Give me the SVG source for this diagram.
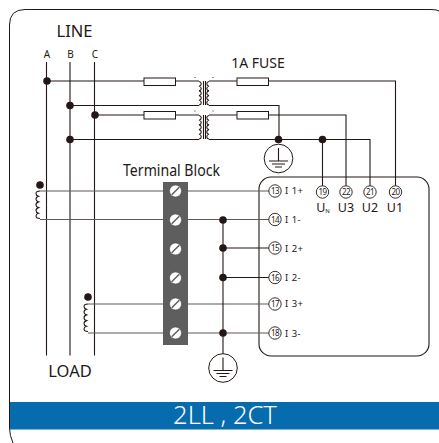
<svg xmlns="http://www.w3.org/2000/svg" width="439" height="443" viewBox="0 0 439 443">
<style>
text{font-family:"Noto Sans","Open Sans",sans-serif;fill:#231815}
.w{fill:none;stroke:#231815;stroke-width:1.1}
.g{fill:none;stroke:#5f5a58;stroke-width:1.1}
.f{fill:#fff;stroke:#231815;stroke-width:1}
.d{fill:#231815}
.t{fill:#fff;stroke:#231815;stroke-width:.9}
.n{font-size:8px;text-anchor:middle;letter-spacing:-.6px}
.l{font-size:9.5px;letter-spacing:.5px}
.u{font-size:12.5px;text-anchor:middle}
.s{fill:#fff;stroke:#4a4a4a;stroke-width:.6}
.sl{stroke:#5f5e5e;stroke-width:1.5}
</style>
<defs>
<path id="coilL" d="M199 0a2.800 2.400 0 0 1 0 4.700a2.800 2.400 0 0 1 0 4.700a2.800 2.400 0 0 1 0 4.700a2.800 2.400 0 0 1 0 4.700a2.800 2.400 0 0 1 0 4.700" class="w"/>
<path id="coilR" d="M209 0a2.800 2.400 0 0 0 0 4.700a2.800 2.400 0 0 0 0 4.700a2.800 2.400 0 0 0 0 4.700a2.800 2.400 0 0 0 0 4.700a2.800 2.400 0 0 0 0 4.700" class="w"/>
<path id="ct" d="M0 0q-4 0-4 2.500q0 2 2.500 2.700q-2.500.7-2.500 3q0 2 2.500 2.700q-2.500.7-2.500 3q0 2 2.500 2.700q-2.500.7-2.500 3q0 2 2.500 2.700q-2.500.7-2.500 2.700q0 2.500 4 2.500" class="w"/>
<g id="gnd"><circle r="14.3" class="f"/><path class="w" d="M0-10.500V2.500M-9.500 2.500H9.500M-6.500 5.500H6.500M-3.500 8.500H3.500"/></g>
<g id="screw"><circle r="6" class="s"/><path class="sl" d="M-3.800 3.800L3.800-3.800"/></g>
</defs>
<g id="frame"><path d="M439 11Q437 9.500 431 9.500H25Q9.500 9.500 9.500 25V428Q9.500 435 13 443" fill="none" stroke="#231815" stroke-width="1"/></g>
<g id="band"><rect x="10" y="402" width="429" height="27.500" fill="#066cae"/><text x="225" y="424" font-size="25.500" font-weight="300" text-anchor="middle" style="fill:#fff">2LL , 2CT</text></g>
<g id="block"><rect x="163" y="182" width="25" height="163" fill="#5f5e5e"/></g>
<g id="device"><rect x="259" y="177" width="170" height="179" rx="12" fill="#fff" stroke="#231815" stroke-width="1.100"/></g>
<g id="connectors">
<path class="w" d="M46.500 62V355.500M70 62V355.500M94.500 62V355.500"/>
<path class="w" d="M47 81H199M70 105.500H199M95 115H199M70 139.500H199"/>
<path class="w" d="M209 81H395.500V186M209 105.500H279V139.500M209 115H346V186M209 139.500H370V186M322.500 139.500V186"/>
<path class="w" d="M203.500 81V105M205.500 81V105M203.500 115V139M205.500 115V139"/>
<use href="#coilL" y="81.500"/><use href="#coilL" y="115.500"/>
<use href="#coilR" y="81.500"/><use href="#coilR" y="115.500"/>
<path class="g" d="M40 191H269M40 219.500H269M88 304H269M88 333H269"/>
<path class="w" d="M223 220V354M223 248H269M223 277.500H269"/>
<use href="#ct" x="40" y="191"/><use href="#ct" x="88" y="304"/>
<circle class="d" cx="47" cy="81" r="3.800"/><circle class="d" cx="70" cy="105.500" r="3.800"/><circle class="d" cx="95" cy="115" r="3.800"/><circle class="d" cx="70" cy="139.500" r="3.800"/>
<circle class="d" cx="278.500" cy="139.500" r="3.800"/><circle class="d" cx="322.500" cy="139.500" r="3.800"/>
<circle class="d" cx="40" cy="185" r="3.800"/><circle class="d" cx="88" cy="297" r="3.800"/>
<circle class="d" cx="223" cy="220" r="3.800"/><circle class="d" cx="223" cy="248" r="3.800"/><circle class="d" cx="223" cy="277.500" r="3.800"/><circle class="d" cx="223" cy="333" r="3.800"/>
<circle class="d" cx="195" cy="77.500" r=".6"/><circle class="d" cx="213" cy="77.500" r=".6"/><circle class="d" cx="195" cy="111" r=".6"/><circle class="d" cx="213" cy="111" r=".6"/>
</g>
<g id="fuses">
<rect class="f" x="144" y="78" width="31.500" height="7.500"/><rect class="f" x="144" y="111.500" width="31.500" height="7.500"/>
<rect class="f" x="237" y="78" width="31.500" height="7.500"/><rect class="f" x="237" y="111.500" width="31.500" height="7.500"/>
</g>
<use id="ground1" href="#gnd" x="278.500" y="158.500"/>
<use id="ground2" href="#gnd" x="223" y="368"/>
<g id="screws">
<use href="#screw" x="175.500" y="191"/><use href="#screw" x="175.500" y="220"/><use href="#screw" x="175.500" y="249"/><use href="#screw" x="175.500" y="278"/><use href="#screw" x="175.500" y="304"/><use href="#screw" x="175.500" y="333"/>
</g>
<g id="terminals">
<g id="t13"><circle class="t" cx="275" cy="191" r="6.200"/><text class="n" x="275" y="194">13</text><text class="l" x="285" y="194">I 1+</text></g>
<g id="t14"><circle class="t" cx="275" cy="219.500" r="6.200"/><text class="n" x="275" y="222.500">14</text><text class="l" x="285" y="223">I 1-</text></g>
<g id="t15"><circle class="t" cx="275" cy="248" r="6.200"/><text class="n" x="275" y="251">15</text><text class="l" x="285" y="252">I 2+</text></g>
<g id="t16"><circle class="t" cx="275" cy="277.500" r="6.200"/><text class="n" x="275" y="280.500">16</text><text class="l" x="285" y="281">I 2-</text></g>
<g id="t17"><circle class="t" cx="275" cy="304" r="6.200"/><text class="n" x="275" y="307">17</text><text class="l" x="285" y="307">I 3+</text></g>
<g id="t18"><circle class="t" cx="275" cy="333" r="6.200"/><text class="n" x="275" y="336">18</text><text class="l" x="285" y="337">I 3-</text></g>
<g id="t19"><circle class="t" cx="322.500" cy="192" r="6.200"/><text class="n" x="322.500" y="195">19</text></g>
<g id="t22"><circle class="t" cx="346" cy="192" r="6.200"/><text class="n" x="346" y="195">22</text></g>
<g id="t21"><circle class="t" cx="370" cy="192" r="6.200"/><text class="n" x="370" y="195">21</text></g>
<g id="t20"><circle class="t" cx="395.500" cy="192" r="6.200"/><text class="n" x="395.500" y="195">20</text></g>
<text class="u" x="323" y="212">U<tspan font-size="6" dy="1">N</tspan></text>
<text class="u" x="346" y="212">U3</text><text class="u" x="370" y="212">U2</text><text class="u" x="395" y="212">U1</text>
</g>
<g id="labels">
<text x="74.500" y="37" font-size="16.500" text-anchor="middle">LINE</text>
<text x="47" y="58" font-size="10" text-anchor="middle">A</text><text x="70.500" y="58" font-size="10" text-anchor="middle">B</text><text x="95" y="58" font-size="10" text-anchor="middle">C</text>
<text x="171.500" y="176" font-size="15.500" text-anchor="middle" textLength="97" lengthAdjust="spacingAndGlyphs">Terminal Block</text>
<text x="258" y="68" font-size="14" text-anchor="middle">1A FUSE</text>
<text x="70" y="377" font-size="16.500" text-anchor="middle">LOAD</text>
</g>
</svg>
